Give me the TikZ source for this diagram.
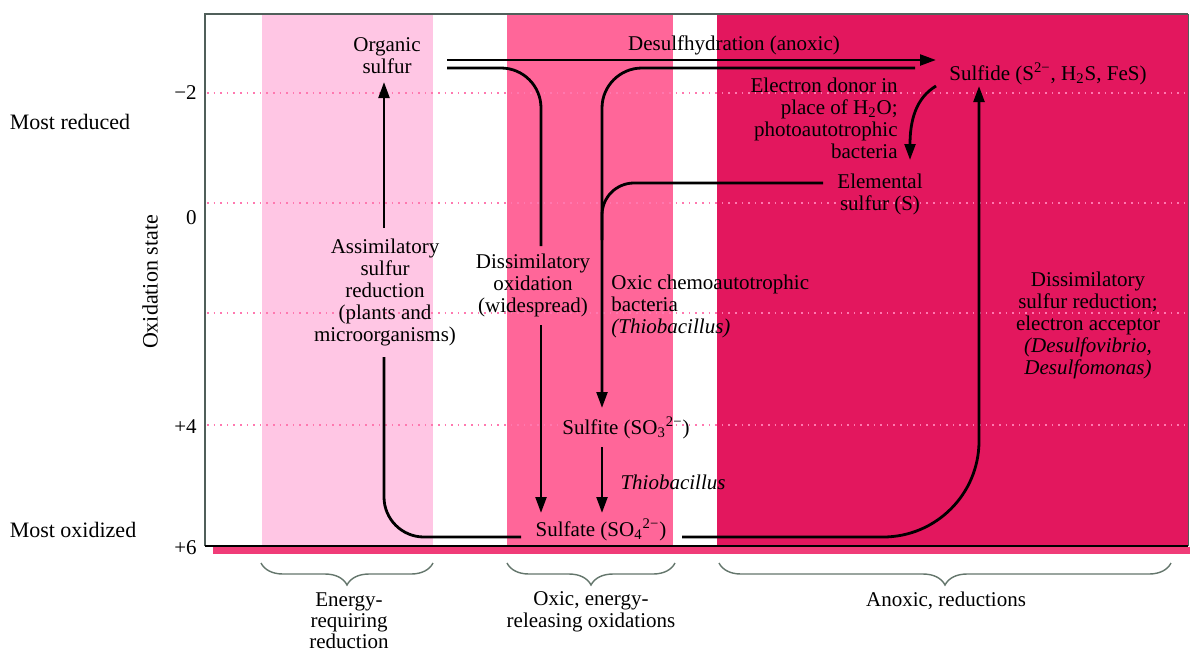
\documentclass[tikz,border=0pt]{standalone}
\usepackage{fontspec}
\setmainfont{Liberation Serif}
\usetikzlibrary{arrows.meta,decorations.pathreplacing}
\definecolor{lightband}{RGB}{255,198,228}
\definecolor{midband}{RGB}{255,102,153}
\definecolor{deepband}{RGB}{227,23,94}
\definecolor{dotpink}{RGB}{255,120,175}
\definecolor{bracegray}{RGB}{100,118,108}
\definecolor{framegray}{RGB}{80,95,90}
\definecolor{barpink}{RGB}{240,60,120}
\begin{document}
\begin{tikzpicture}[x=0.5pt,y=-0.5pt,
  lbl/.style={inner sep=0pt, align=center, font=\fontsize{10.5}{11}\selectfont},
  side/.style={inner sep=0pt, font=\fontsize{11}{12}\selectfont},
  ln/.style={line width=1.4pt, rounded corners=20pt},
  arr/.style={line width=1.4pt, -{Triangle[length=8pt,width=5.4pt]}},
  brc/.style={bracegray, line width=0.7pt, decorate, decoration={brace, mirror, amplitude=11pt, aspect=0.5}},
  gridln/.style={dotpink, line width=0.8pt, dash pattern=on 0.8pt off 2.5pt}]
\useasboundingbox (0,0) rectangle (1192,654);
\fill[white] (0,0) rectangle (1192,654);
% bands
\fill[lightband] (262,14) rectangle (433,546);
\fill[midband] (507,14) rectangle (673,546);
\fill[deepband] (717,14) rectangle (1188,546);
% dotted level lines
\foreach \yy in {93,203,313,425} \draw[gridln] (207,\yy) -- (1188,\yy);
% frame
\draw[framegray, line width=0.8pt] (1188,14) -- (205,14) -- (205,546);
\draw[black, line width=0.8pt] (205,546) -- (1188,546);
\draw[framegray, line width=0.5pt] (1188,14) -- (1188,546);
\fill[barpink] (213,547) rectangle (1190,554);
% axis labels
\node[side] (mostred) at (70,122) {Most reduced};
\node[side] (mostox) at (73,530) {Most oxidized};
\node[side, rotate=90] (oxstate) at (150,282) {Oxidation state};
\node[lbl, anchor=east] (tm2) at (197,93) {−2};
\node[lbl, anchor=east] (t0) at (197,218) {0};
\node[lbl, anchor=east] (tp4) at (197,427) {+4};
\node[lbl, anchor=east] (tp6) at (197,548) {+6};
% compound nodes
\node[lbl] (organic) at (387,56) {Organic\\sulfur};
\node[lbl] (desulf) at (734,45) {Desulfhydration (anoxic)};
\node[lbl] (sulfide) at (1048,74) {Sulfide (S\textsuperscript{2−}, H\textsubscript{2}S, FeS)};
\node[lbl, anchor=east, align=right] (donor) at (898,118) {Electron donor in\\place of H\textsubscript{2}O;\\photoautotrophic\\bacteria};
\node[lbl] (elemental) at (880,194) {Elemental\\sulfur (S)};
\node[lbl] (assim) at (385,292) {Assimilatory\\sulfur\\reduction\\(plants and\\microorganisms)};
\node[lbl] (dissox) at (533,285) {Dissimilatory\\oxidation\\(widespread)};
\node[lbl, anchor=west, align=left] (chemo) at (611,306) {Oxic chemoautotrophic\\bacteria\\\textit{(Thiobacillus)}};
\node[lbl] (sulfite) at (626,428) {Sulfite (SO\textsubscript{3}\textsuperscript{2−})};
\node[lbl] (thio) at (673,482) {\textit{Thiobacillus}};
\node[lbl] (sulfate) at (601,530) {Sulfate (SO\textsubscript{4}\textsuperscript{2−})};
\node[lbl] (dissred) at (1088,325) {Dissimilatory\\sulfur reduction;\\electron acceptor\\\textit{(Desulfovibrio,}\\\textit{Desulfomonas)}};
% connector coordinates
\coordinate (dsA) at (447,60); \coordinate (dsB) at (936,60);
\coordinate (doA) at (447,68); \coordinate (doC) at (541,68); \coordinate (doB) at (541,246);
\coordinate (doD) at (541,325); \coordinate (doE) at (541,513);
\coordinate (ocA) at (915,68); \coordinate (ocC) at (602,68); \coordinate (ocB) at (602,408);
\coordinate (elA) at (823,183); \coordinate (elC) at (602,183); \coordinate (elB) at (602,240);
\coordinate (phA) at (936,86); \coordinate (phB) at (910,160);
\coordinate (stA) at (602,447); \coordinate (stB) at (602,513);
\coordinate (asA) at (521,537); \coordinate (asC) at (384,537); \coordinate (asB) at (384,357);
\coordinate (asD) at (384,228); \coordinate (asE) at (384,82);
\coordinate (drA) at (682,537); \coordinate (drC) at (979,537); \coordinate (drB) at (979,86);
% connectors
\draw[arr] (dsA) -- (dsB);
\draw[ln] (doA) -- (doC) -- (doB);
\draw[arr] (doD) -- (doE);
\draw[arr, rounded corners=20pt] (ocA) -- (ocC) -- (ocB);
\draw[ln, rounded corners=16pt] (elA) -- (elC) -- (elB);
\draw[arr] (phA) .. controls (916,98) and (910,120) .. (phB);
\draw[arr] (stA) -- (stB);
\draw[ln] (asA) -- (asC) -- (asB);
\draw[arr] (asD) -- (asE);
\draw[arr, rounded corners=48pt] (drA) -- (drC) -- (drB);
% braces
\coordinate (br1a) at (261,563); \coordinate (br1b) at (433,563);
\coordinate (br2a) at (507,563); \coordinate (br2b) at (675,563);
\coordinate (br3a) at (719,563); \coordinate (br3b) at (1171,563);
\draw[brc] (br1a) -- (br1b);
\draw[brc] (br2a) -- (br2b);
\draw[brc] (br3a) -- (br3b);
\node[lbl, font=\fontsize{10.5}{10.5}\selectfont] (b1) at (349,621) {Energy-\\requiring\\reduction};
\node[lbl] (b2) at (591,612) {Oxic, energy-\\releasing oxidations};
\node[lbl] (b3) at (946,601) {Anoxic, reductions};
\end{tikzpicture}
\end{document}
